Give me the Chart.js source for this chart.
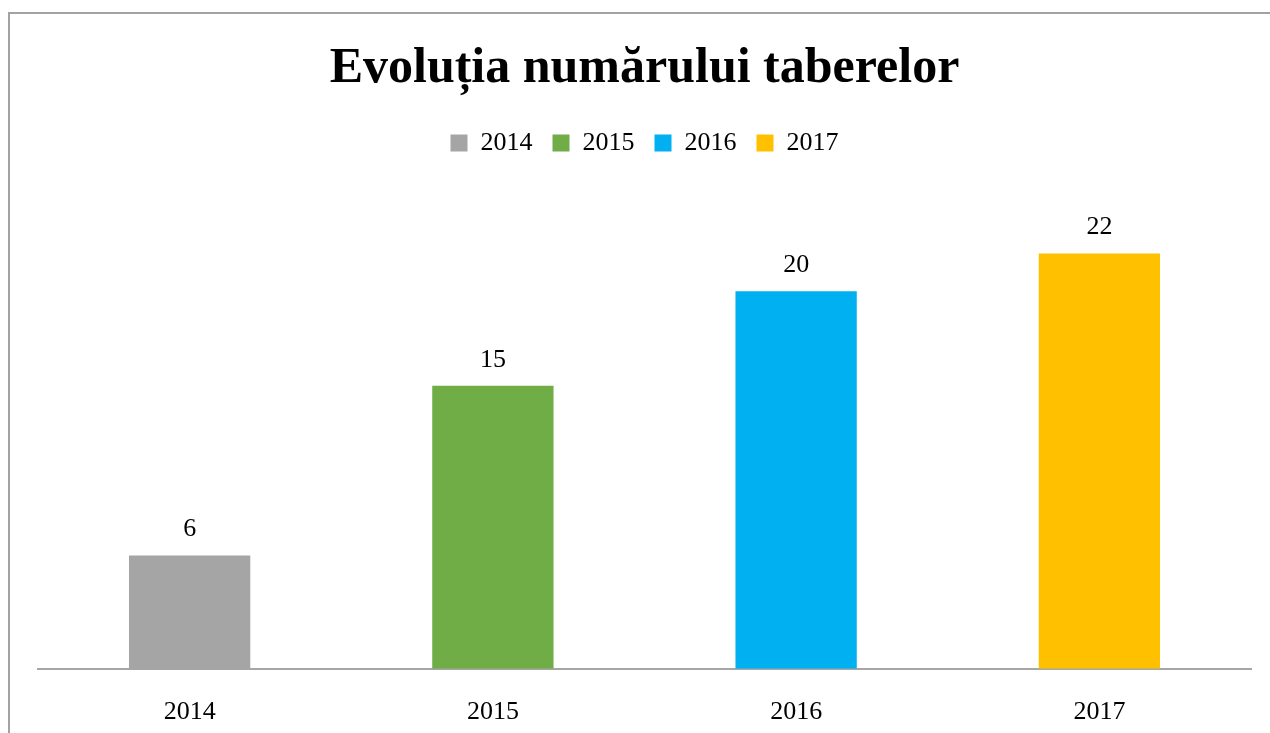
<!DOCTYPE html>
<html>
<head>
<meta charset="utf-8">
<script src="https://cdn.jsdelivr.net/npm/chart.js@4"></script>
<style>
  html, body { margin: 0; padding: 0; background: #fff; overflow: hidden; }
  #frame {
    position: absolute; left: 8px; top: 12px;
    width: 1300px; height: 800px;
    border-left: 2px solid #a3a3a3; border-top: 2px solid #a3a3a3;
  }
  #box { position: absolute; left: 0; top: 0; width: 1270px; height: 760px; }
</style>
</head>
<body>
<div id="frame"></div>
<div id="box"><canvas id="myChart"></canvas></div>
<script>
"use strict";

// Chart data
const years = ["2014", "2015", "2016", "2017"];
const camps = [6, 15, 20, 22];
const barColors = ["#a5a5a5", "#70ad47", "#00b0f0", "#ffc000"];

const serif = "'Liberation Serif', 'Times New Roman', serif";

// Value labels above bars
const valueLabels = {
  id: "valueLabels",
  afterDatasetsDraw(chart) {
    const ctx = chart.ctx;
    const meta = chart.getDatasetMeta(0);
    ctx.save();
    ctx.font = "26px " + serif;
    ctx.fillStyle = "#000";
    ctx.textAlign = "center";
    ctx.textBaseline = "middle";
    meta.data.forEach((bar, i) => {
      ctx.fillText(String(camps[i]), bar.x, bar.y - 26);
    });
    ctx.restore();
  },
};

// Extra space under the legend
const legendMargin = {
  id: "legendMargin",
  beforeInit(chart) {
    const fit = chart.legend.fit;
    chart.legend.fit = function () {
      fit.bind(chart.legend)();
      this.height += 31;
    };
  },
};

const ctx = document.getElementById("myChart").getContext("2d");

const myChart = new Chart(ctx, {
  type: "bar",
  data: {
    labels: years,
    datasets: [
      {
        data: camps,
        backgroundColor: barColors,
        borderWidth: 0,
        categoryPercentage: 1,
        barPercentage: 0.4,
      },
    ],
  },
  options: {
    responsive: true,
    maintainAspectRatio: false,
    animation: false,
    layout: {
      padding: { left: 38, right: 19, top: 0, bottom: 4 },
    },
    scales: {
      x: {
        grid: { display: false, drawTicks: false },
        border: { display: true, color: "#a6a6a6", width: 2 },
        ticks: {
          color: "#000",
          padding: 28,
          font: { family: serif, size: 26 },
        },
      },
      y: {
        display: false,
        min: 0,
        max: 25,
      },
    },
    plugins: {
      title: {
        display: true,
        text: "Evoluția numărului taberelor",
        color: "#000",
        font: { family: serif, size: 50, weight: "bold" },
        padding: { top: 39, bottom: 11 },
      },
      legend: {
        display: true,
        position: "top",
        labels: {
          color: "#000",
          font: { family: serif, size: 26 },
          boxWidth: 17,
          boxHeight: 17,
          padding: 20,
          generateLabels: () =>
            years.map((y, i) => ({
              text: y,
              fillStyle: barColors[i],
              strokeStyle: barColors[i],
              lineWidth: 0,
              index: i,
            })),
        },
      },
      tooltip: { enabled: false },
    },
  },
  plugins: [valueLabels, legendMargin],
});
</script>
</body>
</html>
